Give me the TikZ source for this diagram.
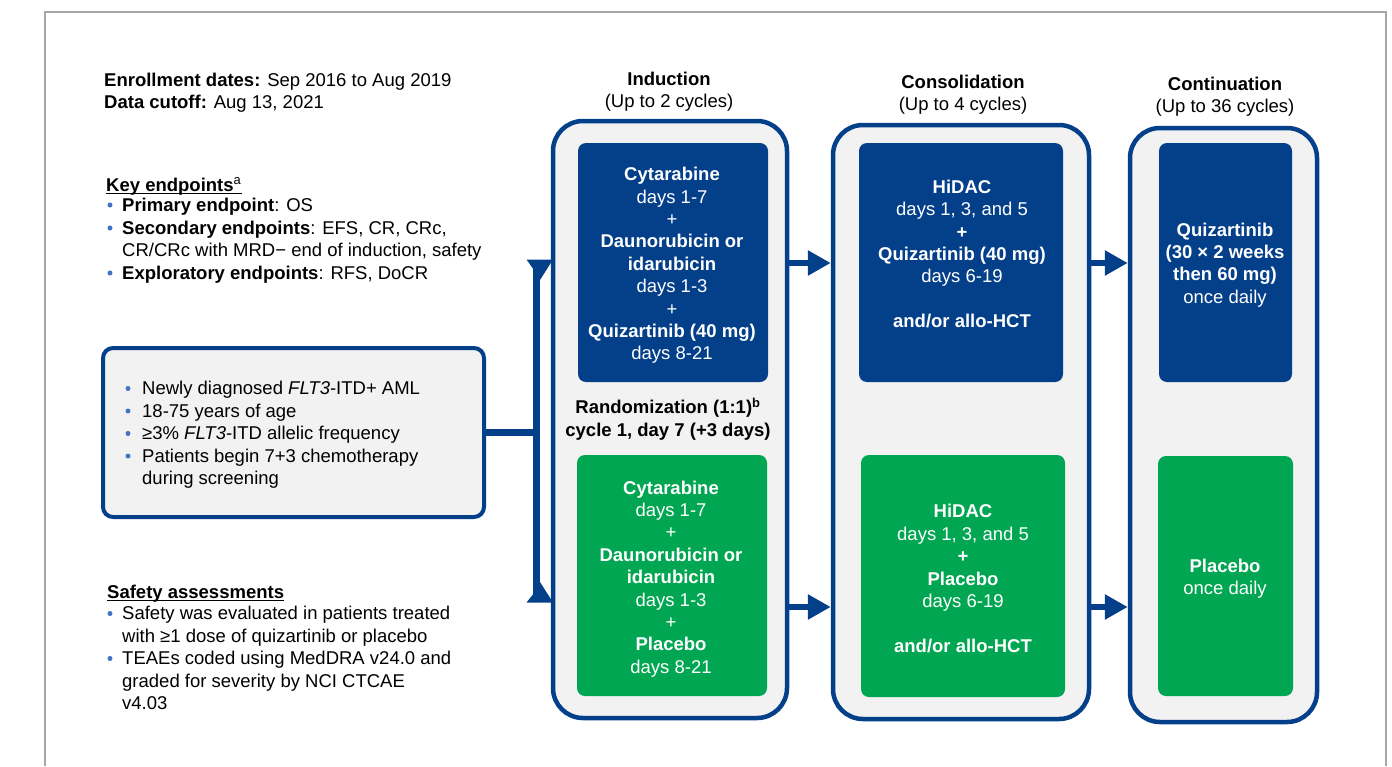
\documentclass[tikz,border=0pt]{standalone}
\usepackage{fontspec}
\setmainfont{Liberation Sans}
\usetikzlibrary{arrows.meta,calc}
\definecolor{navy}{HTML}{043F8A}
\definecolor{grn}{HTML}{00A651}
\definecolor{pale}{HTML}{F2F2F2}
\definecolor{frm}{HTML}{A6A6A6}
\definecolor{bul}{HTML}{4472C4}
\newcommand\fs{\fontsize{18.5pt}{22.4pt}\selectfont}
\begin{document}
\begin{tikzpicture}[x=1pt,y=-1pt,
  every node/.style={font=\fs, inner sep=0pt},
  txt/.style={anchor=base west},
  bdot/.style={circle, fill=bul, inner sep=0pt, minimum size=5pt},
  phase/.style={draw=navy, line width=4.5pt, fill=pale, rounded corners=30pt},
  blubox/.style={fill=navy, rounded corners=8pt},
  grnbox/.style={fill=grn, rounded corners=8pt},
  intxt/.style={text=white, align=center},
  head/.style={align=center},
  conn/.style={draw=navy, line width=6.5pt},
  arr/.style={draw=navy, line width=6pt, -{Triangle[length=23pt,width=24pt]}}]
\useasboundingbox (0,0) rectangle (1392,766);
\fill[white] (0,0) rectangle (1392,766);
% frame
\draw[frm, line width=2pt] (45,766) -- (45,12) -- (1386,12) -- (1386,766);

% header
\node[txt] (enr) at (104,86.5) {\textbf{Enrollment dates:} Sep 2016 to Aug 2019};
\node[txt] (cut) at (104,108.5) {\textbf{Data cutoff:} Aug 13, 2021};

% key endpoints
\node[txt] (key) at (106,191) {\textbf{Key endpoints}\textsuperscript{a}};
\draw[line width=1.5pt] ($(key.base west)+(0,2.5)$) -- ($(key.base east)+(0,2.5)$);
\node[bdot] (kb1) at (110,205) {};
\node[txt] (pe) at (122,211) {\textbf{Primary endpoint}: OS};
\node[bdot] (kb2) at (110,228) {};
\node[txt] (se1) at (122,234) {\textbf{Secondary endpoints}: EFS, CR, CRc,};
\node[txt] (se2) at (122,256.5) {CR/CRc with MRD− end of induction, safety};
\node[bdot] (kb3) at (110,273) {};
\node[txt] (ex) at (122,279) {\textbf{Exploratory endpoints}: RFS, DoCR};

% eligibility box
\node[draw=navy, line width=4pt, fill=pale, rounded corners=10pt,
      minimum width=381pt, minimum height=169pt] (elig) at (293.5,432.5) {};
\node[bdot] (eb1) at (128,388.5) {};
\node[txt] (el1) at (142,394.5) {Newly diagnosed \textit{FLT3}-ITD+ AML};
\node[bdot] (eb2) at (128,411) {};
\node[txt] (el2) at (142,417) {18-75 years of age};
\node[bdot] (eb3) at (128,433.5) {};
\node[txt] (el3) at (142,439.5) {≥3\% \textit{FLT3}-ITD allelic frequency};
\node[bdot] (eb4) at (128,456) {};
\node[txt] (el4) at (142,462) {Patients begin 7+3 chemotherapy};
\node[txt] (el5) at (142,484.5) {during screening};

% safety
\node[txt] (saf) at (107,598) {\textbf{Safety assessments}};
\draw[line width=1.5pt] ($(saf.base west)+(0,2.5)$) -- ($(saf.base east)+(0,2.5)$);
\node[bdot] (sb1) at (110,613.5) {};
\node[txt] (sa1) at (122,619.5) {Safety was evaluated in patients treated};
\node[txt] (sa2) at (122,642) {with ≥1 dose of quizartinib or placebo};
\node[bdot] (sb2) at (110,658.5) {};
\node[txt] (sa3) at (122,664.5) {TEAEs coded using MedDRA v24.0 and};
\node[txt] (sa4) at (122,687) {graded for severity by NCI CTCAE};
\node[txt] (sa5) at (122,709.5) {v4.03};

% bracket connector
\coordinate (brmid) at (536,432.5);
\coordinate (brtop) at (536,266);
\coordinate (brbot) at (536,596);
\draw[conn] (elig.east) -- (brmid);
\draw[navy, line width=7pt] (brtop) -- (brbot);
\fill[navy] (526.5,259.5) -- (553,259.5) -- (540,280) -- (532.5,268) -- cycle;
\fill[navy] (526.5,602.5) -- (553,602.5) -- (540,582) -- (532.5,595) -- cycle;

% phase containers
\node[phase, minimum width=234pt, minimum height=597pt] (ind) at (670,419.5) {};
\node[phase, minimum width=256pt, minimum height=594pt] (cons) at (961,422) {};
\node[phase, minimum width=187pt, minimum height=594pt] (cont) at (1223.5,425) {};

% headings
\node[head] (indh) at (669,91.5) {\textbf{Induction}\\(Up to 2 cycles)};
\node[head] (consh) at (963,94.5) {\textbf{Consolidation}\\(Up to 4 cycles)};
\node[head] (conth) at (1225,96.5) {\textbf{Continuation}\\(Up to 36 cycles)};

% inner boxes
\node[blubox, minimum width=190pt, minimum height=239pt] (indb) at (673,262.5) {};
\node[grnbox, minimum width=190pt, minimum height=241pt] (indg) at (672,575.5) {};
\node[blubox, minimum width=204pt, minimum height=239pt] (consb) at (961,262.5) {};
\node[grnbox, minimum width=204pt, minimum height=242pt] (consg) at (963,576) {};
\node[blubox, minimum width=133pt, minimum height=239pt] (contb) at (1225.5,262.5) {};
\node[grnbox, minimum width=135pt, minimum height=240pt] (contg) at (1225.5,576) {};

% inner texts
\node[intxt] (indbt) at (672,265.5) {\textbf{Cytarabine}\\days 1-7\\+\\\textbf{Daunorubicin or}\\\textbf{idarubicin}\\days 1-3\\+\\\textbf{Quizartinib (40 mg)}\\days 8-21};
\node[intxt] (indgt) at (671,579) {\textbf{Cytarabine}\\days 1-7\\+\\\textbf{Daunorubicin or}\\\textbf{idarubicin}\\days 1-3\\+\\\textbf{Placebo}\\days 8-21};
\node[intxt] (consbt) at (962,254) {\textbf{HiDAC}\\days 1, 3, and 5\\\textbf{+}\\\textbf{Quizartinib (40 mg)}\\days 6-19\\[22.4pt]\textbf{and/or allo-HCT}};
\node[intxt] (consgt) at (963,578.5) {\textbf{HiDAC}\\days 1, 3, and 5\\\textbf{+}\\\textbf{Placebo}\\days 6-19\\[22.4pt]\textbf{and/or allo-HCT}};
\node[intxt] (contbt) at (1225,265) {\textbf{Quizartinib}\\\textbf{(30 × 2 weeks}\\\textbf{then 60 mg)}\\once daily};
\node[intxt] (contgt) at (1225,578.5) {\textbf{Placebo}\\once daily};

% randomization
\node[head] (rand) at (668,419) {\textbf{Randomization (1:1)\textsuperscript{b}}\\\textbf{cycle 1, day 7 (+3 days)}};

% arrows
\coordinate (ra) at (0,263);
\coordinate (rb) at (0,607);
\draw[arr] (ind.east |- ra) -- (cons.west |- ra);
\draw[arr] (ind.east |- rb) -- (cons.west |- rb);
\draw[arr] (cons.east |- ra) -- (cont.west |- ra);
\draw[arr] (cons.east |- rb) -- (cont.west |- rb);
\end{tikzpicture}
\end{document}
